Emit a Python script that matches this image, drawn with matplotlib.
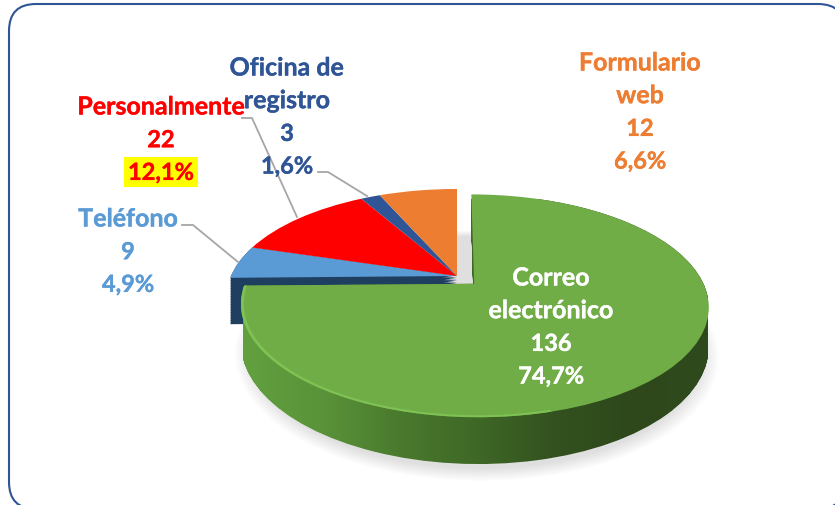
import numpy as np
import matplotlib
matplotlib.use("Agg")
import matplotlib.pyplot as plt
import matplotlib.patheffects as pe
from matplotlib.colors import LinearSegmentedColormap
from matplotlib.patches import Circle, FancyBboxPatch, PathPatch, Wedge
from matplotlib.path import Path
from matplotlib.transforms import Transform

# slices, clockwise from 12 o'clock
names = ["Correo\nelectrónico", "Teléfono", "Personalmente", "Oficina de\nregistro", "Formulario\nweb"]
values = [136, 9, 22, 3, 12]
percents = ["74,7%", "4,9%", "12,1%", "1,6%", "6,6%"]
colors = ["#70ad47", "#5b9bd5", "#ff0000", "#2f5597", "#ed7d31"]
explode = [0.105, 0, 0, 0, 0]

plt.rcParams["font.family"] = ["Lato", "DejaVu Sans"]


class Persp(Transform):
    # unit pie -> screen pixels, top of the pie further away
    input_dims = 2
    output_dims = 2
    is_separable = False

    def __init__(self, z=0.0):
        super().__init__()
        self.z = z

    def transform_non_affine(self, xy):
        xy = np.asarray(xy, dtype=float)
        w = 1 + 0.195 * xy[:, 1]
        px = 457 + 226 * xy[:, 0] / w
        py = 277 + (-104 * xy[:, 1] + 37 * self.z) / w
        return np.column_stack([px, py])


fig = plt.figure(figsize=(8.35, 5.06), dpi=100)
ax = fig.add_axes([0, 0, 1, 1])
wedges, _ = ax.pie(values, colors=colors, explode=explode, startangle=90, counterclock=False, radius=1)
ax.set_aspect("auto")
ax.set_xlim(0, 835)
ax.set_ylim(506, 0)
ax.axis("off")

top = Persp(0) + ax.transData
for w in wedges:
    w.set_transform(top)
    w.set_zorder(5)
    w.set_linewidth(0)

green_path = wedges[0].get_path()
green_mid = np.deg2rad(90 - values[0] / sum(values) * 180)
gx = explode[0] * np.cos(green_mid)
gy = explode[0] * np.sin(green_mid)

# soft shadow below the pie
for r in np.linspace(1.03, 0.96, 16):
    s = Circle((gx + 0.008, gy - 0.012), r, fc="#808080", ec="none", alpha=0.016,
               transform=Persp(1.2) + ax.transData, zorder=1)
    ax.add_patch(s)

# side of the telefono slice, dark band on the left
tel_path = wedges[1].get_path()
for z in np.linspace(0, 1.25, 30):
    p = PathPatch(Persp(z).transform_path(tel_path), fc="#1f3f60", ec="none",
                  transform=ax.transData, zorder=3)
    ax.add_patch(p)

# side of the green slice, gradient clipped to the swept outline
layers = [Persp(z).transform_path(green_path) for z in np.linspace(0, 1, 50)]
sweep = Path.make_compound_path(*layers)
side_cmap = LinearSegmentedColormap.from_list(
    "side", ["#62a03f", "#5a9339", "#4a7a2e", "#3f6827", "#33521f", "#2e481b", "#2f4a1c"])
grad = np.linspace(0, 1, 256).reshape(1, -1)
im = ax.imshow(grad, cmap=side_cmap, extent=(243, 708, 506, 200), aspect="auto", zorder=4)
im.set_clip_path(PathPatch(sweep, transform=ax.transData))
ax.set_xlim(0, 835)
ax.set_ylim(506, 0)

# light rim along the near edge of the top face
theta_end = 90 - 360 * values[0] / sum(values) + 360
rim = Wedge((gx, gy), 1.0, theta_end, 285, width=0.012, fc="#7fc254", ec="none",
            transform=top, zorder=6)
ax.add_patch(rim)

# leader lines
leaders_x = [[182, 193, 238], [242, 252, 297], [318, 328, 367]]
leaders_y = [[226, 226, 263], [119, 119, 218], [173, 173, 197]]
for lx, ly in zip(leaders_x, leaders_y):
    ax.plot(lx, ly, color="#a6a6a6", lw=1.3, zorder=7)

# labels
label_x = [551, 128, 161, 287, 640]
label_y = [279, 220, 108, 69, 64]
label_colors = ["white", "#5b9bd5", "#ff0000", "#2f5597", "#ed7d31"]
step = 32.7
for i in range(len(values)):
    name_lines = names[i].split("\n")
    lines = name_lines + [str(values[i]), percents[i]]
    for j, line in enumerate(lines):
        bbox = None
        if names[i] == "Personalmente" and j == 2:
            bbox = dict(fc="#ffff00", ec="none", pad=2.5)
        size = 18 if j < len(name_lines) else 17
        t = ax.text(label_x[i], label_y[i] + j * step, line, color=label_colors[i], fontsize=size,
                    fontweight="bold", ha="center", va="center", zorder=10, bbox=bbox)
        t.set_path_effects([pe.withStroke(linewidth=0.25, foreground=label_colors[i])])

# chart frame, right and bottom run off the picture
frame = FancyBboxPatch((9, 5), 836, 505, boxstyle="round,pad=0,rounding_size=27",
                       fc="white", ec="#2f5597", lw=1.5, zorder=0)
ax.add_patch(frame)

fig.savefig("out.png", dpi=100)
